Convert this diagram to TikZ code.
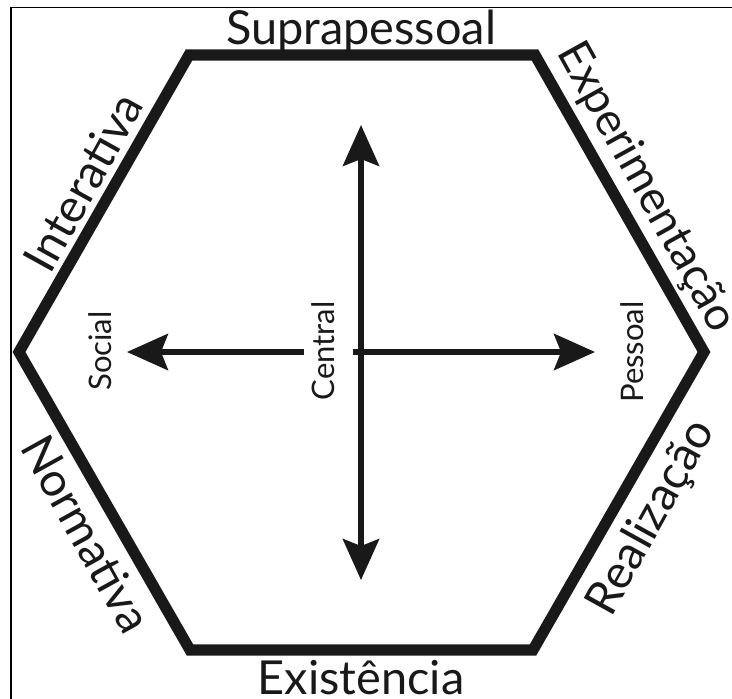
\documentclass[tikz,border=0pt]{standalone}
\usepackage{fontspec}
\setmainfont{Lato}
\usetikzlibrary{arrows.meta, positioning, calc}

\begin{document}
\begin{tikzpicture}[
    x=0.03cm, y=-0.03cm,
    hexline/.style={line width=9.5pt, line join=miter, draw=black!90},
    axis/.style={line width=4.3pt, draw=black!90, fill=black!90, -{Stealth[length=35pt, width=31pt, inset=6pt]}},
    biglabel/.style={font=\fontsize{40}{46}\selectfont, text=black!90, inner sep=0pt},
    smalllabel/.style={font=\fontsize{26.5}{32}\selectfont, text=black!90, rotate=90, inner sep=0pt}
]
\useasboundingbox (0,0) rectangle (732,698);
\clip (0,0) rectangle (732,698);

% Frame
\draw[line width=1.3pt] (11,7.5) rectangle (760,730);

% Hexagon corners
\coordinate (l) at (19,352);
\coordinate (tl) at (189,55);
\coordinate (tr) at (535,55);
\coordinate (r) at (704,352);
\coordinate (br) at (533,650);
\coordinate (bl) at (190,650);

\draw[hexline] (l) -- (tl) -- (tr) -- (r) -- (br) -- (bl) -- cycle;

% Edge labels
\node[biglabel, anchor=base] (supra) at (361,44) {Suprapessoal};
\node[biglabel, rotate=61] (inter) at (83,182) {Interativa};
\node[biglabel, rotate=-61, font=\fontsize{39}{45}\selectfont] (exper) at (646,188) {Experimentação};
\node[biglabel, rotate=-61] (norma) at (87,534) {Normativa};
\node[biglabel, rotate=61] (reali) at (652,518) {Realização};
\node[biglabel, anchor=base] (exist) at (361,694) {Existência};

% Axes
\coordinate (o) at (361,352);
\coordinate (uptip) at (361,125);
\coordinate (downtip) at (361,580);
\coordinate (lstart) at (304,352);
\coordinate (lefttip) at (127,352);
\coordinate (rstart) at (353,352);
\coordinate (righttip) at (595,352);

\draw[axis] (o) -- (uptip);
\draw[axis] (o) -- (downtip);
\draw[axis] (lstart) -- (lefttip);
\draw[axis] (rstart) -- (righttip);

% Axis labels
\node[smalllabel] (social) at (100,351) {Social};
\node[smalllabel] (central) at (323,351) {Central};
\node[smalllabel] (pessoal) at (632,352) {Pessoal};

\end{tikzpicture}
\end{document}
